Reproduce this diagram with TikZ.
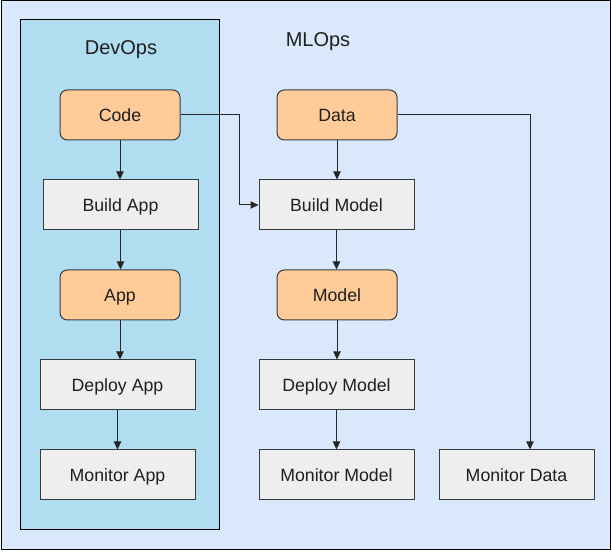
\documentclass[tikz,border=0pt]{standalone}
\usepackage{fontspec}
\setmainfont{Liberation Sans}
\usepackage{xcolor}
\usepackage{tikz}
\usetikzlibrary{positioning, arrows.meta}

\definecolor{outerbg}{HTML}{DAE8FC}
\definecolor{devbg}{HTML}{B1DDF0}
\definecolor{orangebox}{HTML}{FFCC99}
\definecolor{graybox}{HTML}{EEEEEE}
\definecolor{edgecol}{HTML}{36393D}

\begin{document}
\begin{tikzpicture}[
        x=0.75pt, y=-0.75pt,
        step box/.style={rectangle, draw=edgecol, line width=0.75pt, fill=graybox, minimum width=116.25pt, minimum height=37.5pt, inner sep=0pt, align=center, text height=10pt, text depth=0.6pt, font=\fontsize{13.3}{15}\selectfont, text=black!88},
        artifact/.style={step box, fill=orangebox, rounded corners=5.5pt, minimum width=90pt},
        container/.style={rectangle, draw=black, line width=0.75pt, inner sep=0pt},
        title/.style={font=\fontsize{15}{17}\selectfont, text=black!88},
        flow/.style={-{Triangle[length=6pt, width=5.5pt]}, line width=0.75pt, draw=black!85}
    ]
        % Frames
        \useasboundingbox (0,0) rectangle (612,552);
        \node[container, fill=outerbg, minimum width=456.75pt, minimum height=411.75pt] (mlops) at (305.5,275.5) {};
        \node[container, fill=devbg, minimum width=149.25pt, minimum height=382.5pt] (devops) at (119.5,275) {};
        \node[title] (devtitle) at (121,50) {DevOps};
        \node[title] (mltitle) at (318,42) {MLOps};

        % DevOps column
        \node[artifact] (code) at (120,115) {Code};
        \node[step box] (buildapp) at (120.5,205) {Build App};
        \node[artifact] (app) at (120,295) {App};
        \node[step box] (deployapp) at (117.5,385) {Deploy App};
        \node[step box] (monitorapp) at (117.5,475) {Monitor App};

        % MLOps column
        \node[artifact] (data) at (337,115) {Data};
        \node[step box] (buildmodel) at (336.5,205) {Build Model};
        \node[artifact] (model) at (337,295) {Model};
        \node[step box] (deploymodel) at (336.5,385) {Deploy Model};
        \node[step box] (monitormodel) at (336.5,475) {Monitor Model};
        \node[step box] (monitordata) at (516.5,475) {Monitor Data};

        % Flows
        \draw[flow] (code) -- (code |- buildapp.north);
        \draw[flow] (buildapp) -- (buildapp |- app.north);
        \draw[flow] (app) -- (app |- deployapp.north);
        \draw[flow] (deployapp) -- (monitorapp);
        \draw[flow] (code.east) -- ++(59,0) |- (buildmodel.west);
        \draw[flow] (data) -- (data |- buildmodel.north);
        \draw[flow] (buildmodel) -- (buildmodel |- model.north);
        \draw[flow] (model) -- (model |- deploymodel.north);
        \draw[flow] (deploymodel) -- (monitormodel);
        \coordinate (databend) at (530,115);
        \draw[flow] (data.east) -- (databend) -- (databend |- monitordata.north);
    \end{tikzpicture}
\end{document}
